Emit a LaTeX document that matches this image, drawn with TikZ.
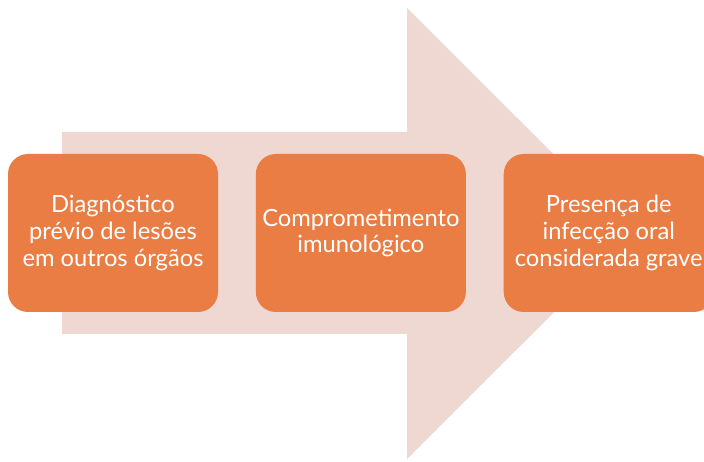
\documentclass[tikz,border=0pt]{standalone}
\usepackage{fontspec}
\setmainfont{Lato}
\usepackage{xcolor}
\usepackage{tikz}
\usetikzlibrary{
  positioning
}
\definecolor{StepOrange}{HTML}{E97D43}
\definecolor{ArrowPink}{HTML}{EFD8D1}
\tikzset{
  stepbox/.style={
    fill=StepOrange,
    rounded corners=15pt,
    align=center,
    text=white,
    font=\fontsize{17.8}{20}\selectfont,
    minimum width=157.5pt,
    minimum height=118.5pt,
    inner sep=0pt
  },
  bigarrow/.style={
    fill=ArrowPink
  }
}

\begin{document}
\begin{tikzpicture}[
  x=0.75pt,
  y=0.75pt,
  node distance=28pt
]

  \useasboundingbox (0,0) rectangle (704,461);

  % background arrow
  \coordinate (shaftTop) at (62,329);
  \coordinate (shaftBottom) at (62,127);
  \coordinate (headTop) at (407,453);
  \coordinate (headBottom) at (407,2);
  \coordinate (tip) at (633,227.5);
  \fill[bigarrow]
  (shaftTop) -- (407,329) -- (headTop) -- (tip) --
  (headBottom) -- (407,127) -- (shaftBottom) -- cycle;

  \node[
    stepbox
  ] (diagnostico) at (113,228) {
    Diagnóstico\\
    prévio de lesões\\
    em outros órgãos
  };

  \node[
    stepbox,
    right=of diagnostico
  ] (imuno) {
    Comprometimento\\
    imunológico
  };

  \node[
    stepbox,
    right=of imuno
  ] (infeccao) {
    Presença de\\
    infecção oral\\
    considerada grave
  };

\end{tikzpicture}
\end{document}
